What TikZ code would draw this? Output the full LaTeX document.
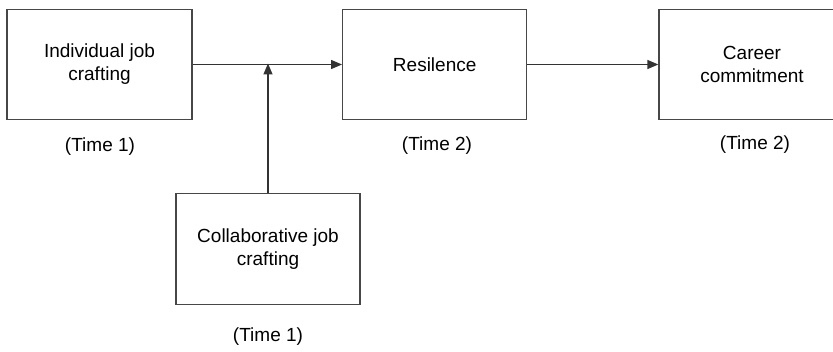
\documentclass[tikz,border=0pt]{standalone}
\usepackage{fontspec}
\setmainfont{Liberation Sans}
\usetikzlibrary{arrows.meta}
\begin{document}
\begin{tikzpicture}[x=1pt,y=-1pt,
  box/.style={draw=black!72,line width=1.3pt,minimum width=185pt,minimum height=110pt,inner sep=0pt,align=center,font=\fontsize{19}{23}\selectfont},
  lbl/.style={inner sep=0pt,font=\fontsize{19}{23}\selectfont},
  conn/.style={draw=black!80,line width=1.3pt,-{Triangle[length=11pt,width=9pt]}}]
\useasboundingbox (0,0) rectangle (833,352);
\fill[white] (0,0) rectangle (833,352);
\clip (0,0) rectangle (833,352);
\node[box] (b1) at (99.5,64.5) {Individual job\\crafting};
\node[box,minimum width=184pt] (b2) at (434.7,64.5) {Resilence};
\node[box,minimum width=186pt] (b3) at (752,64.5) {Career\\commitment};
\node[box,minimum width=184pt,minimum height=111pt] (b4) at (268,249) {Collaborative job\\crafting};
\node[lbl] (t1) at (100,147) {(Time 1)};
\node[lbl] (t2) at (437,146) {(Time 2)};
\node[lbl] (t3) at (755,145) {(Time 2)};
\node[lbl] (t4) at (268,337) {(Time 1)};
\draw[conn] (b1.east) -- (b2.west);
\draw[conn] (b2.east) -- (b3.west);
\coordinate (m) at (b4.north |- b1.east);
\draw[conn] (b4.north) -- ([yshift=1pt]m);
\end{tikzpicture}
\end{document}
